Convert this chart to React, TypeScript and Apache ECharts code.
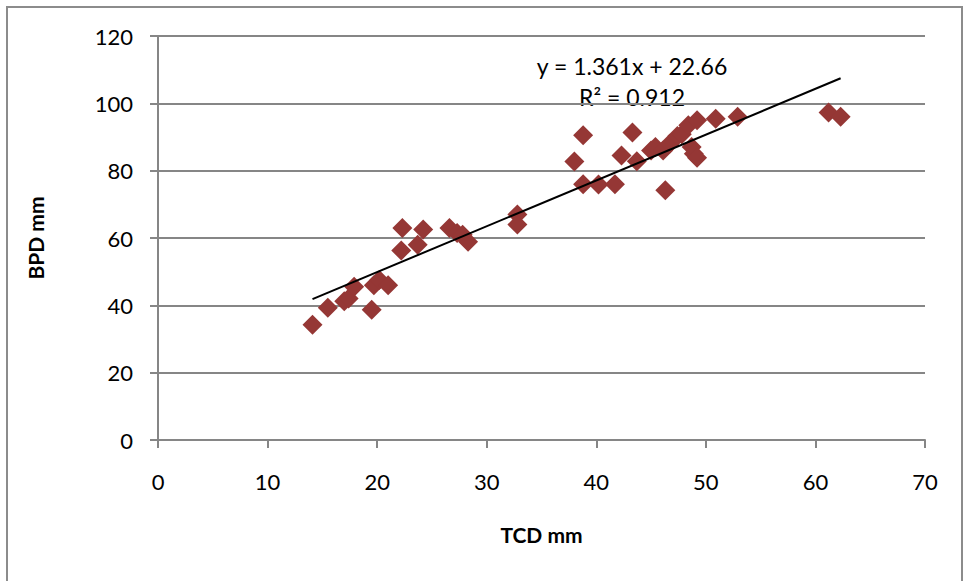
import React, { useEffect, useRef } from "react";
import * as echarts from "echarts";

const tcd: number[] = [
  14.1, 15.5, 17.0, 17.4, 17.9, 19.5, 19.7, 20.2, 21.0, 22.3, 22.2, 23.7, 24.2,
  26.6, 27.3, 27.8, 28.3, 32.8, 32.8, 38.0, 38.8, 38.8, 40.2, 41.7, 42.3, 43.3,
  43.7, 45.0, 45.4, 46.1, 46.3, 46.7, 47.4, 47.8, 48.4, 48.7, 48.9, 49.2, 49.2,
  50.9, 52.9, 61.2, 62.3,
];
const bpd: number[] = [
  34.2, 39.3, 41.2, 42.0, 45.5, 38.7, 46.0, 47.5, 46.0, 63.0, 56.3, 58.0, 62.5,
  63.0, 61.5, 61.0, 58.9, 67.0, 64.0, 82.7, 90.5, 76.0, 75.9, 76.0, 84.5, 91.3,
  82.8, 86.0, 87.0, 86.0, 74.2, 88.0, 90.3, 90.8, 93.5, 87.0, 85.0, 83.8, 95.0,
  95.4, 96.0, 97.3, 96.0,
];
const slope = 1.361;
const intercept = 22.66;
const equationText = "y = 1.361x + 22.66";
const r2Text = "R² = 0.912";
const xTitle = "TCD mm";
const yTitle = "BPD mm";

export default function App() {
  const ref = useRef<HTMLDivElement>(null);
  useEffect(() => {
    if (!ref.current) return;
    const chart = echarts.init(ref.current, undefined, { renderer: "svg" });
    const xMin = Math.min(...tcd);
    const xMax = Math.max(...tcd);
    const font = "Lato, 'Open Sans', sans-serif";
    chart.setOption({
      animation: false,
      backgroundColor: "#ffffff",
      grid: { left: 158, right: 42, top: 36, bottom: 141, containLabel: false },
      xAxis: {
        type: "value",
        min: 0,
        max: 70,
        interval: 10,
        name: xTitle,
        nameLocation: "middle",
        nameGap: 84,
        nameTextStyle: { fontFamily: font, fontSize: 21, fontWeight: "bold", color: "#000" },
        axisLine: { show: true, onZero: false, lineStyle: { color: "#868686", width: 2 } },
        axisTick: { show: true, inside: false, length: 8, lineStyle: { color: "#868686", width: 2 } },
        axisLabel: { fontFamily: font, fontSize: 22, color: "#000", margin: 30 },
        splitLine: { show: false },
      },
      yAxis: {
        type: "value",
        min: 0,
        max: 120,
        interval: 20,
        name: yTitle,
        nameLocation: "middle",
        nameGap: 112,
        nameTextStyle: { fontFamily: font, fontSize: 21, fontWeight: "bold", color: "#000" },
        axisLine: { show: true, onZero: false, lineStyle: { color: "#868686", width: 2 } },
        axisTick: { show: true, inside: false, length: 8, lineStyle: { color: "#868686", width: 2 } },
        axisLabel: { fontFamily: font, fontSize: 22, color: "#000", margin: 25 },
        splitLine: { show: true, lineStyle: { color: "#868686", width: 2 } },
      },
      graphic: [
        {
          type: "rect",
          shape: { x: 7, y: 7, width: 955, height: 600 },
          style: { fill: "none", stroke: "#8c8c8c", lineWidth: 2 },
          silent: true,
        },
        {
          type: "text",
          x: 632,
          y: 66,
          style: {
            text: equationText,
            fontFamily: font,
            fontSize: 23,
            fill: "#000",
            align: "center",
            verticalAlign: "middle",
          },
        },
        {
          type: "text",
          x: 632,
          y: 97,
          style: {
            text: r2Text,
            fontFamily: font,
            fontSize: 23,
            fill: "#000",
            align: "center",
            verticalAlign: "middle",
          },
        },
      ],
      series: [
        {
          type: "line",
          data: [
            [xMin, slope * xMin + intercept],
            [xMax, slope * xMax + intercept],
          ],
          symbol: "none",
          lineStyle: { color: "#000", width: 2 },
          z: 3,
        },
        {
          type: "scatter",
          data: tcd.map((x, i) => [x, bpd[i]]),
          symbol: "diamond",
          symbolSize: [20, 20],
          itemStyle: { color: "#953735", opacity: 1 },
          z: 2,
        },
      ],
    });
    return () => chart.dispose();
  }, []);
  return (
    <div
      ref={ref}
      style={{ position: "fixed", left: 0, top: 0, width: 967, height: 581 }}
    />
  );
}
